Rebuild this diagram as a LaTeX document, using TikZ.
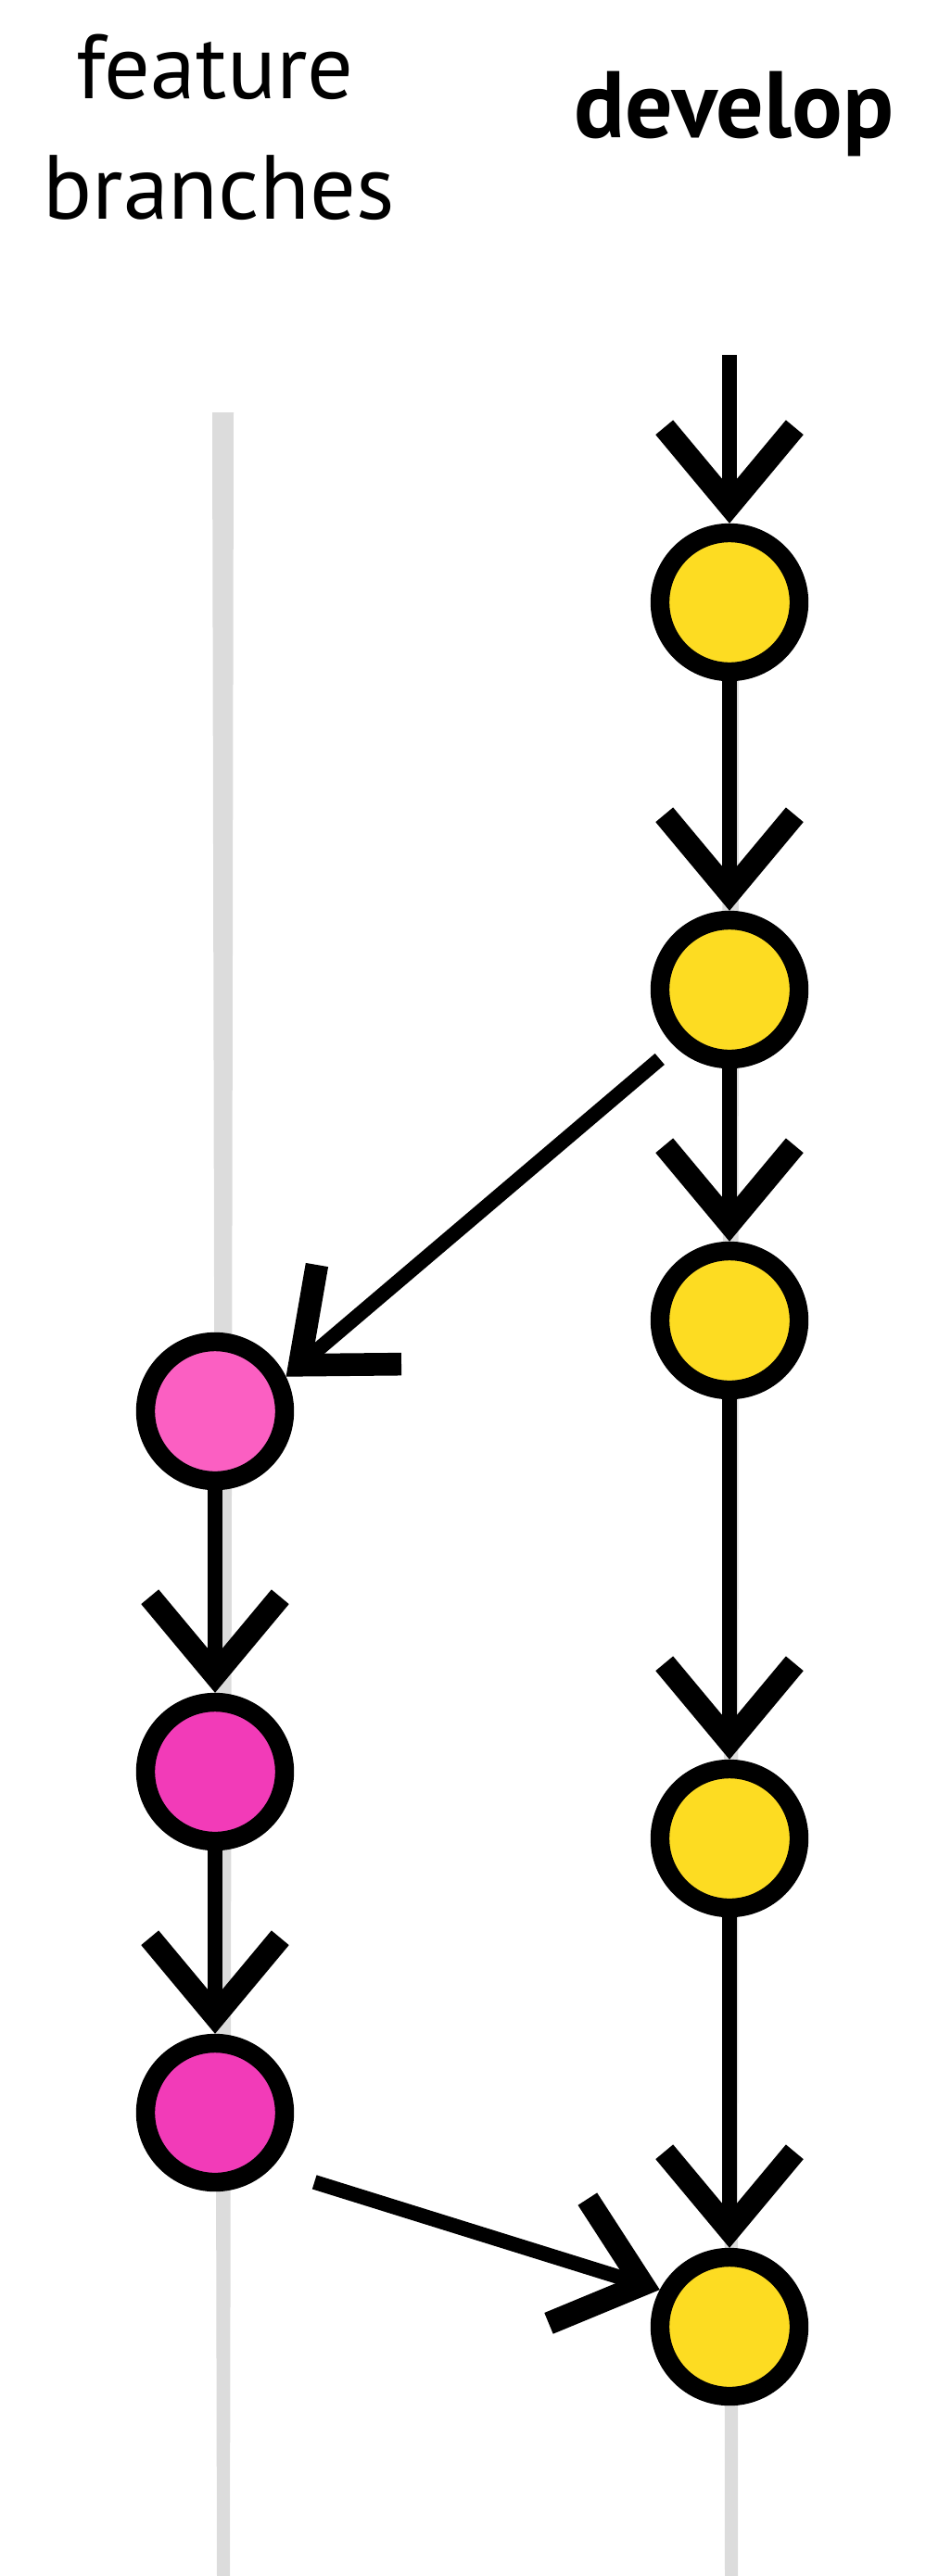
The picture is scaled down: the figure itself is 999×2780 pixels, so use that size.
\documentclass[tikz,border=0pt]{standalone}
\usepackage{fontspec}
\setmainfont{PT Sans}
\usepackage[svgnames]{xcolor}
\usepackage{tikz}
\usetikzlibrary{shapes,arrows.meta}

\definecolor{devyellow}{HTML}{FDDC22}
\definecolor{featpink}{HTML}{FB5FC2}
\definecolor{featmagenta}{HTML}{F23BB8}
\definecolor{lanegray}{HTML}{DCDCDC}

\begin{document}
\begin{tikzpicture}[%
		x=0.1mm,y=-0.1mm,
		lane/.style={lanegray},%
		commit/.style={%
			circle,%
			draw=black,%
			line width=5.8pt,%
			minimum size=15mm,%
			inner sep=0pt},%
		devcommit/.style={commit,fill=devyellow},%
		featcommit/.style={commit,fill=featmagenta},%
		flow/.style={%
			line width=4.5pt,%
			-{Straight Barb[length=24pt,width=40pt,line width=7pt]}},%
		title/.style={font=\fontsize{28}{34}\selectfont,anchor=base}
		]
		\useasboundingbox (0,0) rectangle (999,2780);

		% labels
		\node[title] (feat1) at (232,106) {feature};
		\node[title] (feat2) at (236,236) {branches};
		\node[title,font=\fontsize{29}{34}\selectfont\bfseries] (dev) at (792,148) {develop};
		% feature lane
		\fill[lane] (229,445)--(252,445)--(248,2780)--(234,2780)--cycle;
		% develop lane
		\fill[lane] (779,650)--(797,650)--(796,2780)--(782,2780)--cycle;
		% develop commits
		\coordinate (dtop) at (787,383);
		\node[devcommit] (d1) at (787,650) {};
		\node[devcommit] (d2) at (787,1068) {};
		\node[devcommit] (d3) at (787,1425) {};
		\node[devcommit] (d4) at (787,1984) {};
		\node[devcommit] (d5) at (787,2511) {};
		% feature commits
		\node[featcommit,fill=featpink] (f1) at (232,1523) {};
		\node[featcommit] (f2) at (232,1912) {};
		\node[featcommit] (f3) at (232,2280) {};
		% develop history
		\draw[flow] (dtop)--(d1);
		\draw[flow] (d1)--(d2);
		\draw[flow] (d2)--(d3);
		\draw[flow] (d3)--(d4);
		\draw[flow] (d4)--(d5);
		% branch off and merge back
		\draw[flow,shorten <=6pt] (d2.226)--(f1.26);
		\draw[flow] (f1)--(f2);
		\draw[flow] (f2)--(f3);
		\draw[flow,shorten <=14pt] (f3.-45)--(d5.152);
	\end{tikzpicture}
\end{document}
